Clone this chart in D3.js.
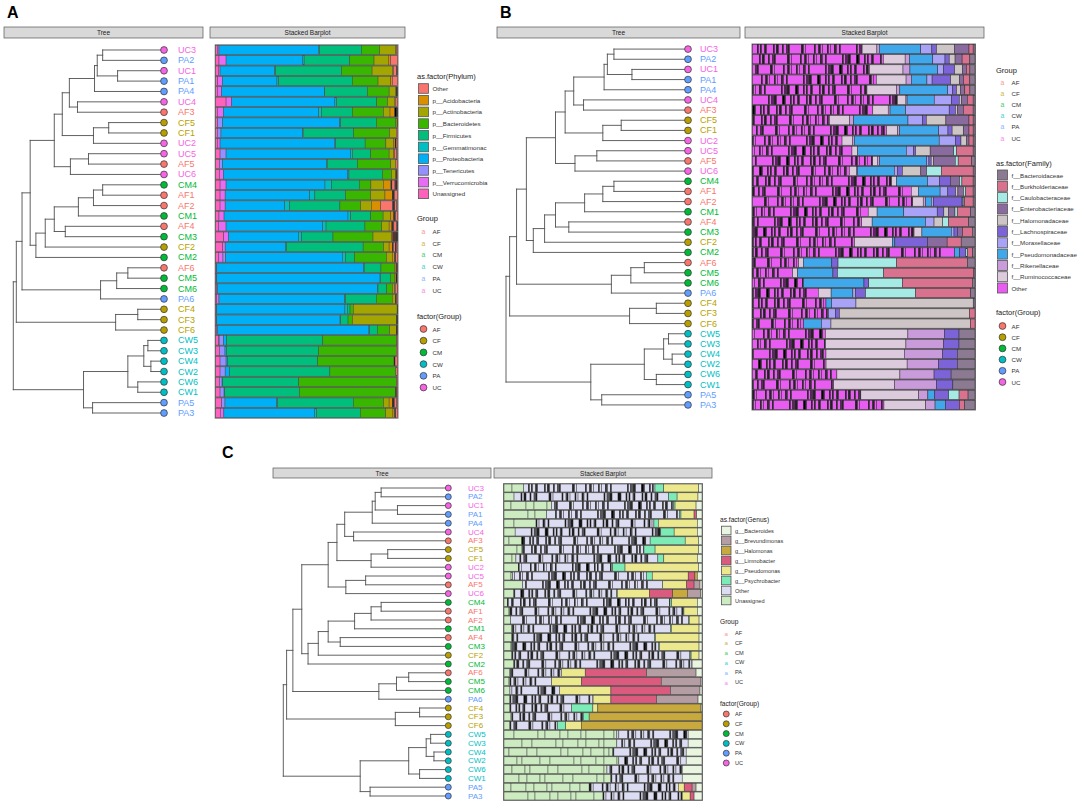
<!DOCTYPE html>
<html>
<head>
<meta charset="utf-8">
<script src="https://cdn.jsdelivr.net/npm/d3@7"></script>
<style>
  body { margin: 0; background: #fff; }
  svg { font-family: "Liberation Sans", Arial, sans-serif; }
</style>
</head>
<body>
<svg id="fig" width="1084" height="808"></svg>
<script>
// ---- shared data ----
const tips = ["UC3","PA2","UC1","PA1","PA4","UC4","AF3","CF5","CF1","UC2","UC5","AF5","UC6",
  "CM4","AF1","AF2","CM1","AF4","CM3","CF2","CM2","AF6","CM5","CM6","PA6","CF4","CF3","CF6",
  "CW5","CW3","CW4","CW2","CW6","CW1","PA5","PA3"];
const groups = ["AF","CF","CM","CW","PA","UC"];
const groupColors = ["#F8766D","#B79F00","#00BA38","#00BFC4","#619CFF","#F564E3"];

// dendrogram: [node depth (0 = root, 1 = tips), child, child]
const tree = [0,
  [0.020,
    [0.058,
      [0.112,
        [0.272,
          [0.325,
            [0.372,
              [0.539, [0.557, [0.593, "UC3", "PA2"], [0.692, "UC1", "PA1"]], "PA4"],
              [0.426, "UC4", "AF3"]],
            [0.532, [0.633, "CF5", "CF1"], "UC2"]],
          [0.379, [0.499, "UC5", "AF5"], "UC6"]],
        [0.150,
          [0.212,
            [0.272,
              [0.432, [0.532, [0.593, "CM4", "AF1"], "AF2"], "CM1"],
              [0.345, "AF4", "CM3"]],
            "CF2"],
          "CM2"]],
      [0.579, [0.686, [0.760, "AF6", "CM5"], "CM6"], "PA6"]],
    [0.679, [0.826, "CF4", "CF3"], "CF6"]],
  [0.466,
    [0.760,
      [0.866, [0.893, "CW5", "CW3"], [0.913, "CW4", "CW2"]],
      [0.826, "CW6", "CW1"]],
    [0.526, "PA5", "PA3"]]];

// ---- panel A: phylum ----
const phylumKeys = ["Other","p__Acidobacteria","p__Actinobacteria","p__Bacteroidetes","p__Firmicutes",
  "p__Gemmatimonac","p__Proteobacteria","p__Tenericutes","p__Verrucomicrobia","Unassigned"];
const phylumColors = ["#F8766D","#D89000","#A3A500","#39B600","#00BF7D","#00BFC4","#00B0F6","#9590FF","#E76BF3","#FF62BC"];
const phylumValues = [
  [0.6,0.3,8.9,10.1,23,0.7,54.6,0,0.9,0.9],
  [3.7,1.3,7.9,13.4,25,0.7,42.2,0,3.9,1.8],
  [2.2,0.6,11.2,16.8,36.3,0.6,30,0,0.9,1.5],
  [2.8,0.9,7,14.2,40.5,0.9,30,0,2.6,1.1],
  [0.6,0.3,3.7,12,23.4,0.2,56.5,0,2.4,0.9],
  [0.9,0.9,3.7,5.9,22.1,0.9,56.7,0,3.1,5.7],
  [1.5,2.6,3.7,17.1,16.9,1.5,52.5,0,3.3,0.9],
  [0.2,0,0.7,10.7,19.7,0.4,64.6,2.6,0,1.1],
  [0.7,0,3.7,19.7,27.8,0.2,45,2.0,0,0.9],
  [1.3,0.9,4.2,11.4,16.2,0.4,63.2,0,1.5,0.9],
  [1.5,0.7,2.4,10.1,10.1,0.9,68.5,3.3,0,2.4],
  [0.9,0,2.8,18.4,16.6,0.4,57.3,1.7,0,2.0],
  [0.9,0,2.4,5,18.4,0.6,68.5,0,2.2,2.0],
  [3.6,4.2,6.8,6.4,15.1,3.7,54.3,0,3.3,2.4],
  [2.8,4.1,7.9,13.8,16.9,2.8,46.6,0,2.8,2.4],
  [9.2,5.2,5.9,11.4,27.6,2.8,32.8,0,2.8,2.4],
  [2.2,1.5,4.2,6.8,11,1.5,68.1,0,2.8,1.8],
  [3.1,1.5,4.1,9.2,21.4,1.8,53.2,0,4.2,1.5],
  [2.6,0.5,10.3,21.9,17.1,1.8,38.3,0,2.6,4.4],
  [2.8,1.8,3.1,11.2,42.2,0.6,33.1,0,1.3,3.9],
  [1.5,1.3,3.3,17.5,5,1.8,64.1,1.5,2.5,1.5],
  [0.8,0,0.9,7.4,9.2,0.4,80.7,0,0.3,0.3],
  [0.8,0,0.9,2.2,5.5,0.2,89.8,0,0.3,0.3],
  [1.2,0.3,1.3,3.1,4.8,0.4,88,0,0.4,0.5],
  [1.1,0,1.8,8.8,16.9,0.4,69.2,0,1.3,0.5],
  [0.2,0,24.1,1.8,1.5,1.3,70.5,0,0.3,0.3],
  [0.5,0,24.3,2.4,4,0.4,67.8,0,0.3,0.3],
  [0.6,0,3.7,6.8,4.2,0.4,83.4,0,0.4,0.5],
  [0.4,0,0.2,40.5,52.9,0.2,1.5,2.4,0.4,1.5],
  [0.7,0,0,42.7,50.6,0,0.9,3.1,0,2],
  [1.9,0,0,42,49.5,0,0.9,3.3,0,2.4],
  [0.9,0,0,36.3,55.2,0,2.4,2.8,0,2.4],
  [0.5,0,0,53.8,41.8,0,0.4,1.5,0,2],
  [1,0,0,53,41,0,0.4,2.2,0,2.4],
  [2.8,1.8,3.1,16.6,41.6,0.4,28.5,1.8,0,3.3],
  [1.5,1,4,14,24,1,50,0,2,2.5]
];

// ---- panel B: family ----
const familyKeys = ["f__Bacteroidaceae","f__Burkholderiaceae","f__Caulobacteraceae","f__Enterobacteriaceae",
  "f__Halomonadaceae","f__Lachnospiraceae","f__Moraxellaceae","f__Pseudomonadaceae","f__Rikenellaceae",
  "f__Ruminococcaceae","Other"];
const familyColors = ["#8B7A92","#D9728F","#A6EAE5","#8A6B9E","#CEC6C6","#7C63D8","#A8A3F6","#3FA7EA","#C99BDB","#DCCBDD","#E95CF2"];
const familyValues = [
  [0.8,1.8,0,6.3,7.8,2,4.8,18,1,6.4,47.5],
  [2.2,3.3,0,3,2.5,1.8,5.2,10,1.8,9.3,55.8],
  [2.2,1.5,0,1.8,3.3,4.8,2.5,12,3,14.5,50.5],
  [2.2,2.7,0,1.8,3.7,7.9,2.2,6.7,2.2,12.7,52.8],
  [2.2,2.2,0,1.8,1.8,1.8,2,20.7,1.5,12.7,49.5],
  [0.8,2.5,0,2.5,1,3.3,7.5,11.7,0.5,3.7,62.5],
  [0.8,4.2,0,2.4,1,2.7,18.7,6.7,0.8,6.6,51.7],
  [0.8,1.8,0,10,8.5,1.5,6.4,23.5,1.8,8.7,33.3],
  [0.8,1.8,0,2.5,4.8,1.8,4,17,0.8,4.8,58],
  [0.8,1.8,0,1,2.5,2.5,7,37,0.8,4.5,39],
  [0.8,7.2,1.2,10.2,6.3,1,3,21,0,2.5,43],
  [1.5,6,1.3,9.7,1,1,1,21,1,2,53.5],
  [0.8,13.8,6.4,2.5,8,2,1.5,16,0.5,3,42],
  [0.8,4.8,1,4,0,4.5,5.2,13.2,0,2.2,59.5],
  [0.8,3.3,0.8,2.4,1,3.3,3.3,9.3,0,3,67.8],
  [0.8,3.7,0.6,0.5,0,12.3,1,2.5,1,4.5,69.3],
  [2,6,1,3,2,3,15,12,0,4,52],
  [2.7,8.7,2.5,0,3.7,0,3.7,22.9,0,4.5,46.9],
  [1.2,4.2,0,2.2,0,1.5,1.2,12.7,0,3.4,70],
  [6,6.1,0,8.5,0,14.2,0,1,0,16.5,44.3],
  [1,2.2,0.8,0,0,2.7,0,2.2,0,0,88.3],
  [3.3,30.7,25.4,0,0,2.7,0,12.4,0,2,20],
  [0.5,39.8,20.4,0,0,2,0,15.6,0,2.2,17.7],
  [1.2,30.5,14.7,0,0,2.1,0,26.5,0,0,22.2],
  [1.9,23.5,21.4,0,0,4.2,1.2,9.3,0,5.5,28.1],
  [0.8,0,0,0,52,0,10.8,2.5,0,0,32.6],
  [0,2.4,0,0,57.2,1.8,3,0,0,0,33.4],
  [0,1.9,0,0,61.4,0,4.2,7.8,0,0,22.5],
  [7,0,0,0,0,6.4,0,0,16,36.2,31.9],
  [7,0,0,0,0,6.7,0,0,16.5,35.2,31.9],
  [7.8,0,0,0,0,6.4,0,0,16.9,34.4,32.3],
  [7.8,0,0,0,0,8.2,0,0,13.8,35.6,32.3],
  [10.5,0,0,0,0,7.5,0,0,15,27.7,37.1],
  [9.7,0,0,0,0,7.2,0,0,18.4,26.6,35.6],
  [3,3.9,4.5,0,0,6,0,3,4,25,46.9],
  [4.5,2.2,0,0,0,6,0,4.5,4,18,56.6]
];

// ---- panel C: genus ----
const genusKeys = ["g__Bacteroides","g__Brevundimonas","g__Halomonas","g__Limnobacter",
  "g__Pseudomonas","g__Psychrobacter","Other","Unassigned"];
const genusColors = ["#E9F4E1","#B49DA3","#C8A93E","#DA5B7E","#ECE88E","#7DEBB5","#DCDCF2","#CCEBC0"];
const genusValues = [
  [1.7,0,0,0,17.5,4.4,66,9.8],
  [2,0,0,0,10.4,4.2,77,5],
  [3,0,0,0,10.6,0.8,61.5,24],
  [2.7,0,0,1.3,6.6,0.8,67,21.5],
  [2.4,0,0,0,19.7,2.2,59.6,16.2],
  [2.4,0,0,0,11.6,6.7,73.2,5.6],
  [1.8,0,0,0,6.7,17.7,64.8,9],
  [1.8,0,0,0,21.9,5.6,61.3,9.4],
  [2.4,0,0,0,16.8,3,71.4,6],
  [1.8,0,0,0,37,6.2,47.6,7.2],
  [2.4,0,1.2,3.4,18.2,2.9,67.7,4.4],
  [1,3,0,3.7,12.1,0,70.7,9.4],
  [0.7,6.7,7.4,11.8,16.2,0.3,51.9,5],
  [2.4,0,0,0,13,0.8,82.2,1.7],
  [2.4,0,0,0,6.7,0.3,87.5,3],
  [1.5,0,0,0,5,0.3,90.6,3.4],
  [1.5,0,0,0,14,0.5,80,4],
  [1.5,0,0,0,22,0.5,72,4],
  [1.5,0,0,0,20,0.5,74,4],
  [1.5,0,0,0,4,0.5,90,4],
  [5,0,0,0,0,0,90,5],
  [3,25,0,31,12,0,26,3],
  [0.5,20,0,40,15,0,21,3],
  [1,15,0,30,26,0,25,3],
  [2,21,0,23,9,0,42,3],
  [0.5,0,52,0,2.5,10.8,31,3],
  [0,0,57,0,0,3,36,4],
  [0,0,61,0,7.8,4.2,24,3],
  [7,0,0,0,0,0,36,57],
  [7,0,0,0,0,0,36,57],
  [8,0,0,0,0,0,37,55],
  [8,0,0,0,0,0,34,58],
  [10,0,0,0,0,0,38,52],
  [10,0,0,0,0,0,36,54],
  [3,2,0,4,3,0,45,43],
  [4,0,0,2,4,0,40,50]
];

// texture of many small OTU slices (px widths; tone 0 = colour, 1 = black, 2 = darkened)
const otuWidths = [5,1,2,1,3,1,1,7,1,2,1,1,4,1,3,2,1,12,1,1,2,9,1,3,1,1,2,5,1,2,4,1,1,3,1,16,1,2,3,1,1,6,2,1];
const otuTones  = [0,1,0,1,0,2,1,0,1,0,1,1,0,1,0,2,1,0,1,1,0,0,1,0,2,1,0,0,1,0,0,1,2,0,1,0,1,0,2,1,1,0,1,1];
const coarseWidths = [8,13,5,18,10,24,7,15];
const coarseTones  = [0,0,0,0,0,0,0,0];

const panels = [
  { letter: "A", lx: 7, ly: 18,
    treeHead: [4, 203, 27, 38], barHead: [210, 405, 27, 38],
    rootX: 13.3, tipX: 164, labelX: 178, labelSize: 9, r: 3.4,
    rowTop: 44.8, rowBottom: 418.2, barX: [215.7, 397.5], segStroke: "#4a4a4a",
    keys: phylumKeys, colors: phylumColors, values: phylumValues,
    textures: { "Other": [otuWidths, otuTones] },
    legend: { x: 417, titleSize: 7.5, itemSize: 6.2, key: [10, 9.6],
      sections: [
        { type: "fill", title: "as.factor(Phylum)", y: 76, first: 88.5, step: 11.7 },
        { type: "text", title: "Group", y: 218, first: 231.5, step: 11.7 },
        { type: "point", title: "factor(Group)", y: 316, first: 329, step: 11.7 }] } },
  { letter: "B", lx: 500, ly: 18,
    treeHead: [497, 740, 27, 38], barHead: [745, 984, 27, 38],
    rootX: 506, tipX: 688, labelX: 700, labelSize: 9, r: 3.4,
    rowTop: 44, rowBottom: 410, barX: [752.5, 975], segStroke: "#2a2a2a",
    keys: familyKeys, colors: familyColors, values: familyValues,
    textures: { "Other": [otuWidths, otuTones] },
    legend: { x: 996, titleSize: 7.5, itemSize: 6.2, key: [10, 10],
      sections: [
        { type: "text", title: "Group", y: 70, first: 82, step: 11.2 },
        { type: "fill", title: "as.factor(Family)", y: 163, first: 175, step: 11.3 },
        { type: "point", title: "factor(Group)", y: 312, first: 326, step: 11.2 }] } },
  { letter: "C", lx: 222, ly: 458,
    treeHead: [273, 491, 468, 478], barHead: [494, 712, 468, 478],
    rootX: 283.3, tipX: 448.3, labelX: 468, labelSize: 8, r: 3,
    rowTop: 483.6, rowBottom: 800.4, barX: [504, 702], segStroke: "#3a3a3a",
    keys: genusKeys, colors: genusColors, values: genusValues,
    textures: { "Other": [otuWidths, otuTones], "Unassigned": [coarseWidths, coarseTones] },
    legend: { x: 720, titleSize: 6.6, itemSize: 5.6, key: [9.5, 8.6],
      sections: [
        { type: "fill", title: "as.factor(Genus)", y: 519, first: 530.5, step: 10 },
        { type: "text", title: "Group", y: 621, first: 633, step: 9.8 },
        { type: "point", title: "factor(Group)", y: 703, first: 714, step: 9.8 }] } }
];

const svg = d3.select("#fig");
const groupColor = d3.scaleOrdinal().domain(groups).range(groupColors);

function strip(g, box, label) {
  g.append("rect")
    .attr("x", box[0]).attr("y", box[2])
    .attr("width", box[1] - box[0]).attr("height", box[3] - box[2])
    .attr("fill", "#d9d9d9").attr("stroke", "#555").attr("stroke-width", 0.7);
  g.append("text")
    .attr("x", (box[0] + box[1]) / 2).attr("y", (box[2] + box[3]) / 2)
    .attr("text-anchor", "middle").attr("dominant-baseline", "central")
    .attr("font-size", 6.5).attr("fill", "#222")
    .text(label);
}

function drawTree(g, p, y) {
  const root = d3.hierarchy(tree, d => Array.isArray(d) ? d.slice(1) : null);
  const x = d3.scaleLinear().domain([0, 1]).range([p.rootX, p.tipX]);
  root.eachAfter(n => {
    n.h = n.children ? n.data[0] : 1;
    n.py = n.children
      ? (n.children[0].py + n.children[n.children.length - 1].py) / 2
      : y(n.data) + y.bandwidth() / 2;
  });

  const segs = [];
  root.each(n => {
    if (n.parent) segs.push([x(n.parent.h), n.py, x(n.h), n.py]);
    if (n.children) segs.push([x(n.h), n.children[0].py, x(n.h), n.children[n.children.length - 1].py]);
  });

  g.append("g").selectAll("line").data(segs).join("line")
    .attr("x1", d => d[0]).attr("y1", d => d[1])
    .attr("x2", d => d[2]).attr("y2", d => d[3])
    .attr("stroke", "#505050").attr("stroke-width", 0.9)
    .attr("stroke-linecap", "square");

  const leaves = root.leaves();
  g.append("g").selectAll("circle").data(leaves).join("circle")
    .attr("cx", x(1)).attr("cy", d => d.py).attr("r", p.r)
    .attr("fill", d => groupColor(d.data.slice(0, 2)))
    .attr("stroke", "#333").attr("stroke-width", 0.7);

  g.append("g").selectAll("text").data(leaves).join("text")
    .attr("x", p.labelX).attr("y", d => d.py)
    .attr("dominant-baseline", "central")
    .attr("font-size", p.labelSize)
    .attr("fill", d => groupColor(d.data.slice(0, 2)))
    .text(d => d.data);
}

function drawBars(g, p, y) {
  const rows = p.values.map((v, i) => {
    const o = { tip: tips[i] };
    p.keys.forEach((k, j) => { o[k] = v[j]; });
    return o;
  });
  // leftmost segment is the last legend level
  const series = d3.stack().keys(p.keys.slice().reverse()).offset(d3.stackOffsetExpand)(rows);
  const x = d3.scaleLinear().domain([0, 1]).range(p.barX);
  const color = d3.scaleOrdinal().domain(p.keys).range(p.colors);

  g.append("rect")
    .attr("x", p.barX[0] - 1).attr("y", p.rowTop - 0.5)
    .attr("width", p.barX[1] - p.barX[0] + 2).attr("height", p.rowBottom - p.rowTop + 1)
    .attr("fill", "#777");

  const pieces = [];
  series.forEach(s => s.forEach((d, i) => {
    const x0 = x(d[0]), x1 = x(d[1]);
    if (x1 - x0 < 0.05) return;
    const base = color(s.key);
    const tex = p.textures[s.key];
    if (!tex) { pieces.push({ i, x0, x1, fill: base }); return; }
    const [ws, ts] = tex;
    let pos = x0, k = (i * 7) % ws.length;
    while (pos < x1 - 0.05) {
      const w = Math.min(ws[k], x1 - pos);
      const t = ts[k];
      const fill = t === 1 ? "#000" : t === 2 ? d3.interpolateRgb(base, "#000")(0.6) : base;
      pieces.push({ i, x0: pos, x1: pos + w, fill });
      pos += w;
      k = (k + 1) % ws.length;
    }
  }));

  g.append("g").selectAll("rect").data(pieces).join("rect")
    .attr("x", d => d.x0).attr("width", d => d.x1 - d.x0)
    .attr("y", d => y(tips[d.i])).attr("height", y.bandwidth())
    .attr("fill", d => d.fill)
    .attr("stroke", p.segStroke).attr("stroke-width", 0.45);
}

function drawLegend(g, p) {
  const L = p.legend;
  const color = d3.scaleOrdinal().domain(p.keys).range(p.colors);
  L.sections.forEach(sec => {
    g.append("text")
      .attr("x", L.x).attr("y", sec.y).attr("dominant-baseline", "central")
      .attr("font-size", L.titleSize).attr("fill", "#222")
      .text(sec.title);
    const items = sec.type === "fill" ? p.keys : groups;
    const kx = L.x + 1.5, kw = L.key[0], kh = L.key[1];
    const cy = (d, j) => sec.first + j * sec.step;
    const it = g.append("g").selectAll("g").data(items).join("g");
    if (sec.type === "fill") {
      it.append("rect")
        .attr("x", kx).attr("y", (d, j) => cy(d, j) - kh / 2)
        .attr("width", kw).attr("height", kh)
        .attr("fill", d => color(d)).attr("stroke", "#555").attr("stroke-width", 0.8);
    } else if (sec.type === "text") {
      it.append("text")
        .attr("x", kx + kw / 2).attr("y", (d, j) => cy(d, j))
        .attr("text-anchor", "middle").attr("dominant-baseline", "central")
        .attr("font-size", L.itemSize + 0.6).attr("fill", d => groupColor(d)).attr("opacity", 0.75)
        .text("a");
    } else {
      it.append("circle")
        .attr("cx", kx + kw / 2).attr("cy", (d, j) => cy(d, j)).attr("r", p.r)
        .attr("fill", d => groupColor(d)).attr("stroke", "#333").attr("stroke-width", 0.7);
    }
    it.append("text")
      .attr("x", kx + kw + 4).attr("y", (d, j) => cy(d, j))
      .attr("dominant-baseline", "central")
      .attr("font-size", L.itemSize).attr("fill", "#333")
      .text(d => d);
  });
}

panels.forEach(p => {
  const g = svg.append("g");
  g.append("text")
    .attr("x", p.lx).attr("y", p.ly)
    .attr("font-size", 16).attr("font-weight", "bold")
    .text(p.letter);

  strip(g, p.treeHead, "Tree");
  strip(g, p.barHead, "Stacked Barplot");

  const y = d3.scaleBand().domain(tips).range([p.rowTop, p.rowBottom]).paddingInner(0.1).paddingOuter(0.05);
  drawTree(g, p, y);
  drawBars(g, p, y);
  drawLegend(g, p);
});
</script>
</body>
</html>
